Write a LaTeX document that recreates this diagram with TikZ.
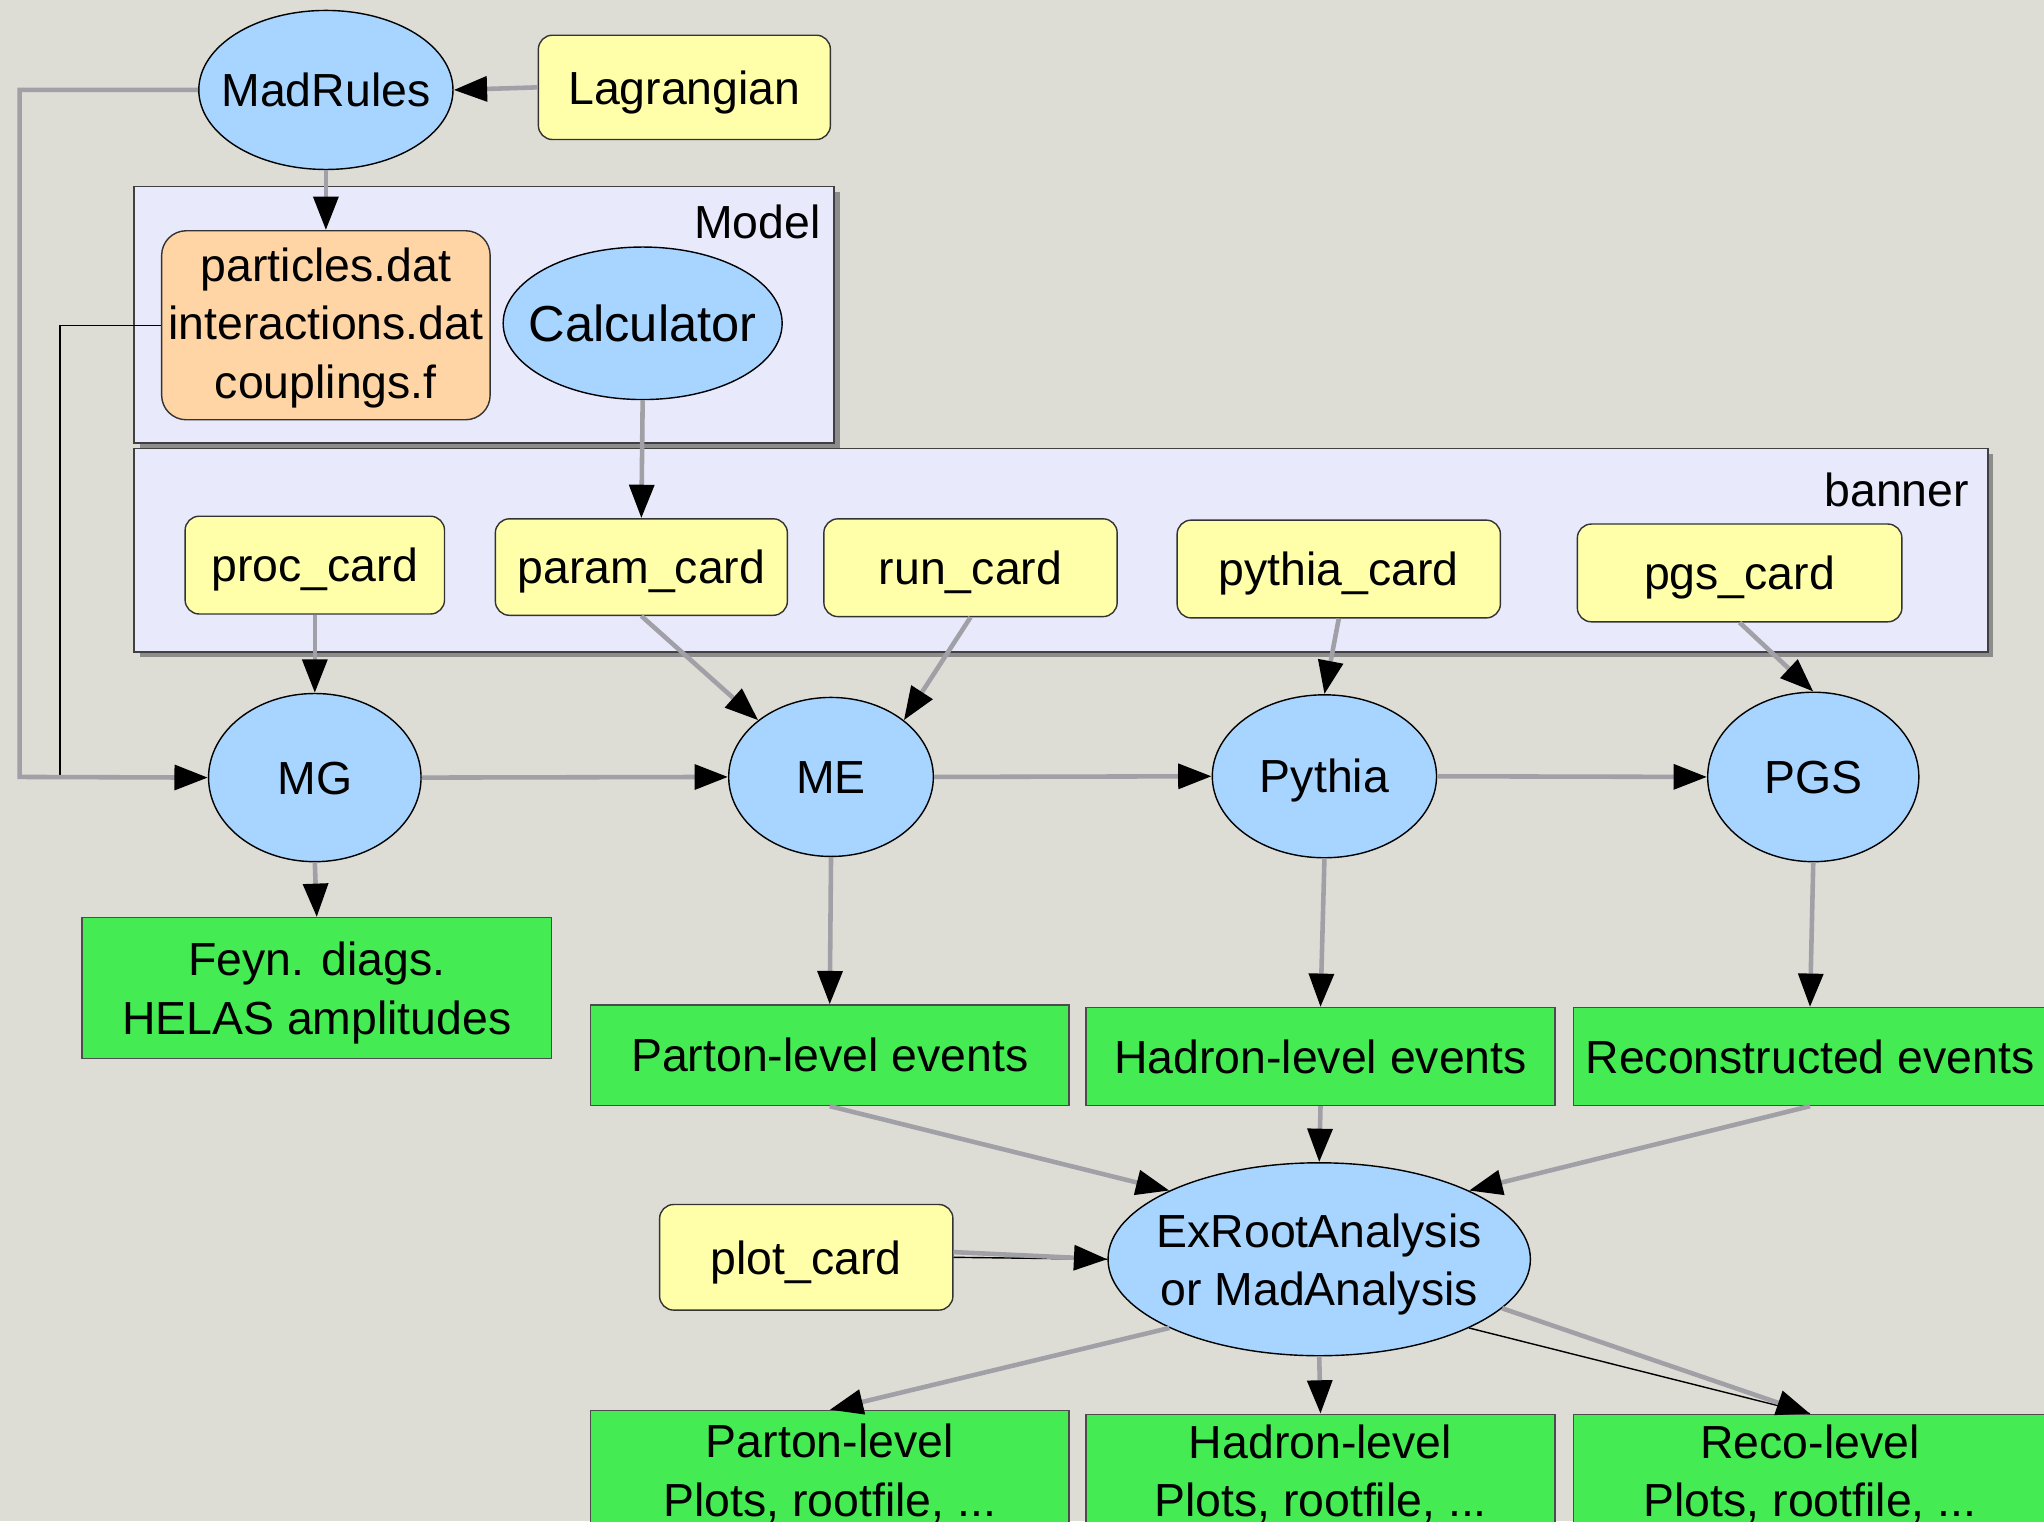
\documentclass[tikz,border=0pt]{standalone}
\usepackage{fontspec}
\setmainfont{Liberation Sans}
\usetikzlibrary{arrows.meta,shapes.geometric,shadows,calc}
\def\pxu{0.013036cm}
\definecolor{bgc}{RGB}{221,221,214}
\definecolor{ellblue}{RGB}{168,213,255}
\definecolor{cardyellow}{RGB}{255,255,170}
\definecolor{fileorange}{RGB}{255,213,166}
\definecolor{outgreen}{RGB}{68,235,82}
\definecolor{contlav}{RGB}{233,233,252}
\definecolor{linegray}{RGB}{160,160,166}
\tikzset{
  wh/.style 2 args={minimum width=#1*\pxu, minimum height=#2*\pxu},
  basefont/.style={font=\fontsize{13.2pt}{16.6pt}\selectfont},
  oneline/.style={text height=9.5pt, text depth=0pt},
  twolines/.style={text height=26.3pt, text depth=0pt},
  threelines/.style={text height=41.4pt, text depth=0pt},
  ell/.style={ellipse, draw=black, line width=0.4pt, fill=ellblue, inner xsep=-40pt, inner ysep=-25pt, basefont, align=center},
  card/.style={rectangle, rounded corners=4pt, draw=black!80, line width=0.4pt, fill=cardyellow, inner sep=0pt, basefont, oneline},
  ofile/.style={rectangle, rounded corners=7pt, draw=black!80, line width=0.4pt, fill=fileorange, inner sep=0pt, basefont, align=center},
  outbox/.style={rectangle, draw=black!70, line width=0.4pt, fill=outgreen, inner sep=0pt, basefont, align=center},
  cont/.style={rectangle, draw=black!75, line width=0.5pt, fill=contlav, inner sep=0pt,
     drop shadow={shadow xshift=1.5pt, shadow yshift=-1.5pt, fill=black!45, opacity=1}},
  lab/.style={inner sep=0pt, basefont},
  conn/.style={draw=linegray, line width=1.3pt, -{Triangle[length=9.5pt,width=7pt,color=black]}},
  thinconn/.style={draw=black, line width=0.4pt},
}
\begin{document}
\begin{tikzpicture}[x=\pxu, y=-\pxu]
\useasboundingbox (0,0) rectangle (1568,1167);
\clip (0,0) rectangle (1568,1167);
\fill[bgc] (0,0) rectangle (1568,1167);

% top
\node[ell, oneline, wh={195}{122}] (madrules) at (250,69) {MadRules};
\node[card, wh={224}{80}] (lagr) at (525,67) {Lagrangian};

% Model container
\node[cont, wh={537}{197}] (model) at (371.5,241.5) {};
\node[lab, anchor=east] (modellab) at (630,170) {Model};
\node[ofile, threelines, wh={252}{145}] (files) at (250,249.5) {particles.dat\\interactions.dat\\couplings.f};
\node[ell, wh={214}{117}, font=\fontsize{14.4pt}{17pt}\selectfont, text height=10.4pt, text depth=0pt] (calc) at (493,248) {Calculator};

% banner container
\node[cont, wh={1422}{156}] (banner) at (814,422) {};
\node[lab, anchor=east] (bannerlab) at (1511,376) {banner};
\node[card, wh={199}{75}] (proc) at (241.5,433.5) {proc\_card};
\node[card, wh={224}{74}] (param) at (492,435) {param\_card};
\node[card, wh={225}{75}] (run) at (744.5,435.5) {run\_card};
\node[card, wh={248}{75}] (pythiacard) at (1027,436.5) {pythia\_card};
\node[card, wh={249}{75}] (pgscard) at (1334.5,439.5) {pgs\_card};

% programs
\node[ell, oneline, wh={163}{129}] (mg) at (241.5,596.5) {MG};
\node[ell, oneline, wh={157}{122}] (me) at (637.5,596) {ME};
\node[ell, oneline, wh={172}{125}] (pythia) at (1016,595.5) {Pythia};
\node[ell, oneline, wh={162}{130}] (pgs) at (1391,596) {PGS};

% outputs
\node[outbox, twolines, wh={360}{108}] (feyn) at (243,758) {Feyn. diags.\\HELAS amplitudes};
\node[outbox, oneline, wh={367}{77}] (pev) at (636.5,809.5) {Parton-level events};
\node[outbox, oneline, wh={360}{75}] (hev) at (1013,810.5) {Hadron-level events};
\node[outbox, oneline, wh={363}{75}] (rev) at (1388.5,810.5) {Reconstructed events};

% analysis
\node[ell, twolines, wh={324}{148}] (exroot) at (1012,966) {ExRootAnalysis\\or MadAnalysis};
\node[card, wh={225}{81}] (plot) at (618.5,964.5) {plot\_card};

\node[outbox, twolines, wh={367}{91}] (pplot) at (636.5,1127.5) {Parton-level\\Plots, rootfile, ...};
\node[outbox, twolines, wh={360}{86}] (hplot) at (1013,1128) {Hadron-level\\Plots, rootfile, ...};
\node[outbox, twolines, wh={363}{86}] (rplot) at (1388.5,1128) {Reco-level\\Plots, rootfile, ...};

% connectors
\coordinate (lbend) at (15,596);
\coordinate (fbend) at (46,596);
\draw[thinconn] (files.west) -| (fbend);
\draw[conn] (madrules.west) -| (lbend) -- (mg.west);
\draw[conn] (lagr.west) -- (madrules.east);
\draw[conn] (madrules.south) -- (files.north);
\draw[conn] (calc.south) -- (param.north);

\draw[conn] (proc.south) -- (mg.north);
\draw[conn] (param.south) -- (me.north west);
\draw[conn] (run.south) -- (me.north east);
\draw[conn] (pythiacard.south) -- (pythia.north);
\draw[conn] (pgscard.south) -- (pgs.north);

\draw[conn] (mg.east) -- (me.west);
\draw[conn] (me.east) -- (pythia.west);
\draw[conn] (pythia.east) -- (pgs.west);

\draw[conn] (mg.south) -- (feyn.north);
\draw[conn] (me.south) -- (pev.north);
\draw[conn] (pythia.south) -- (hev.north);
\draw[conn] (pgs.south) -- (rev.north);

\draw[conn] (pev.south) -- (exroot.north west);
\draw[conn] (hev.south) -- (exroot.north);
\draw[conn] (rev.south) -- (exroot.north east);
\draw[thinconn] (plot.east) -- (exroot.west);
\draw[conn] ($(plot.east)+(0,-4)$) -- (exroot.west);

\draw[conn] (exroot.south west) -- (pplot.north);
\draw[conn] (exroot.south) -- (hplot.north);
\draw[thinconn] (exroot.south east) -- (rplot.north);
\draw[conn] (exroot.-15) -- (rplot.north);
\end{tikzpicture}
\end{document}
